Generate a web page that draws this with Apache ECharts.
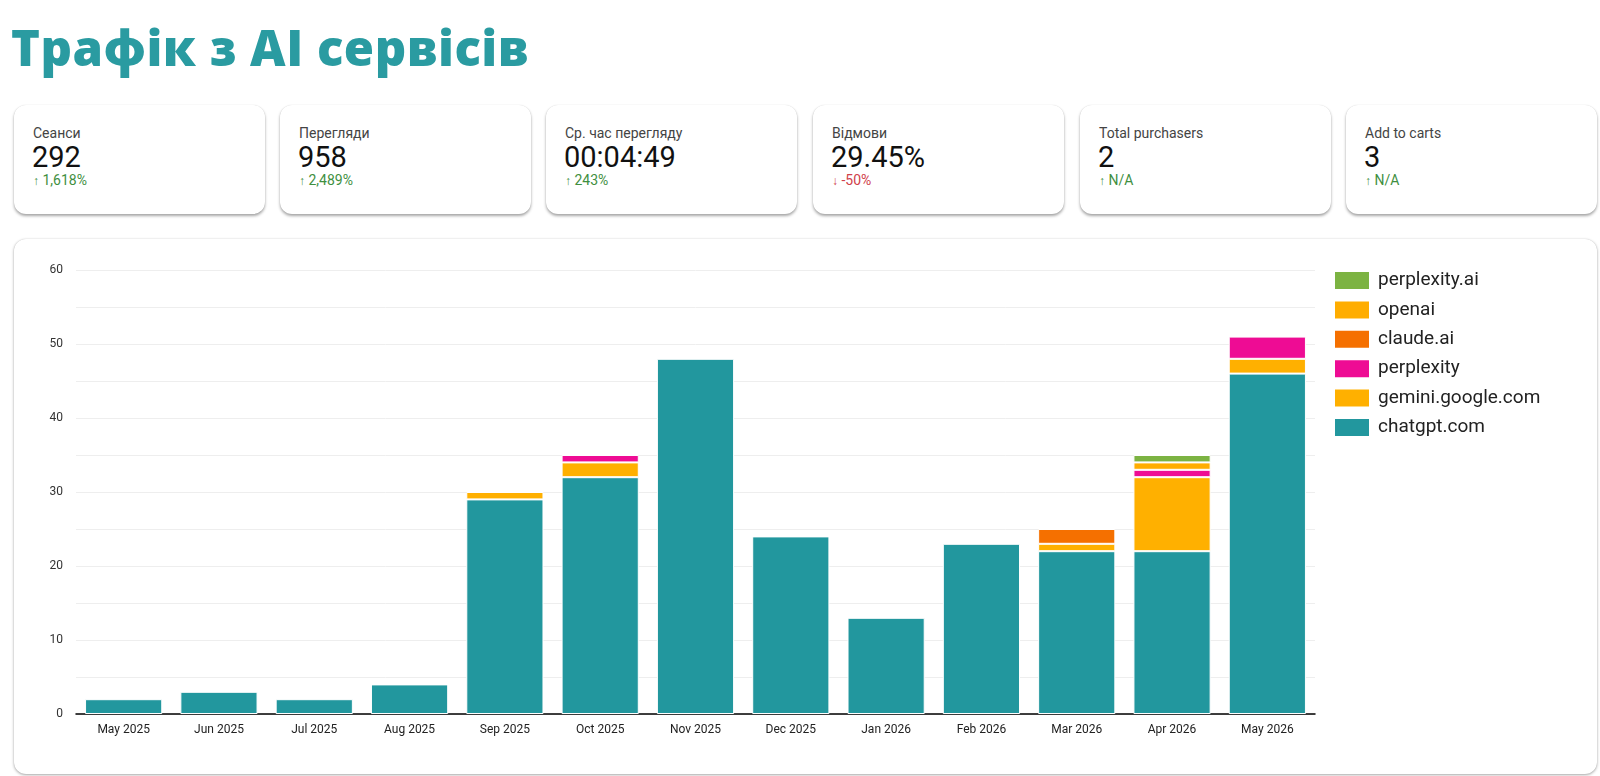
<!DOCTYPE html>
<html>
<head>
<meta charset="utf-8">
<script src="https://cdn.jsdelivr.net/npm/echarts@6/dist/echarts.min.js"></script>
<style>
  html, body { margin:0; padding:0; background:#fff; width:1600px; height:776px; overflow:hidden; font-family: Roboto, "Noto Sans", sans-serif; }
  #title { position:absolute; left:11px; top:14px; font-family:"Open Sans", Lato, sans-serif; font-weight:800; font-size:49px; color:#2a9ba1; letter-spacing:0.5px; white-space:nowrap; }
  .card { position:absolute; top:105px; width:251px; height:109px; background:#fff; border-radius:12px; box-shadow:0 2px 3px rgba(0,0,0,0.35), 0 0 1px rgba(0,0,0,0.15); box-sizing:border-box; }
  .lbl { position:absolute; left:19px; top:20px; font-size:14px; color:#444; }
  .val { position:absolute; left:18px; top:35px; font-size:29px; color:#111; }
  .dlt { position:absolute; left:19px; top:67px; font-size:14px; }
  .up { color:#3f8f3f; }
  .down { color:#d0404a; }
  #chartcard { position:absolute; left:14px; top:239px; width:1583px; height:535px; background:#fff; border-radius:12px; box-shadow:0 1px 3px rgba(0,0,0,0.35), 0 0 1px rgba(0,0,0,0.15); }
  #chart { position:absolute; left:0; top:0; width:1600px; height:776px; }
</style>
</head>
<body>
<div id="title">Трафік з AI сервісів</div>
<div id="cards"></div>
<div id="chartcard"></div>
<div id="chart"></div>
<script>
// KPI data
const kpiLabels = ["Сеанси", "Перегляди", "Ср. час перегляду", "Відмови", "Total purchasers", "Add to carts"];
const kpiValues = ["292", "958", "00:04:49", "29.45%", "2", "3"];
const kpiDeltas = ["1,618%", "2,489%", "243%", "-50%", "N/A", "N/A"];
const kpiDirs   = ["up", "up", "up", "down", "up", "up"];

// Chart data
const months = ["May 2025","Jun 2025","Jul 2025","Aug 2025","Sep 2025","Oct 2025","Nov 2025","Dec 2025","Jan 2026","Feb 2026","Mar 2026","Apr 2026","May 2026"];
const chatgpt      = [2, 3, 2, 4, 29, 32, 48, 24, 13, 23, 22, 22, 46];
const gemini       = [null, null, null, null, 1, 2, null, null, null, null, 1, 10, 2];
const perplexity   = [null, null, null, null, null, 1, null, null, null, null, null, 1, 3];
const claude       = [null, null, null, null, null, null, null, null, null, null, 2, null, null];
const openai       = [null, null, null, null, null, null, null, null, null, null, null, 1, null];
const perplexityAi = [null, null, null, null, null, null, null, null, null, null, null, 1, null];
const yTicks = [0, 10, 20, 30, 40, 50, 60];
const legendOrder = ["perplexity.ai", "openai", "claude.ai", "perplexity", "gemini.google.com", "chatgpt.com"];

// Build cards
const lefts = [14, 280, 546, 813, 1080, 1346];
const cardsEl = document.getElementById('cards');
kpiLabels.forEach((l, i) => {
  const c = document.createElement('div');
  c.className = 'card';
  c.style.left = lefts[i] + 'px';
  const arrow = kpiDirs[i] === 'up' ? '&#8593;' : '&#8595;';
  c.innerHTML = '<div class="lbl">' + l + '</div><div class="val">' + kpiValues[i] + '</div>' +
    '<div class="dlt ' + kpiDirs[i] + '"><span style="font-size:12px;font-weight:900">' + arrow + '</span> ' + kpiDeltas[i] + '</div>';
  cardsEl.appendChild(c);
});

const chart = echarts.init(document.getElementById('chart'), null, { renderer: 'canvas' });
const mk = (name, data, color) => ({
  name, type: 'bar', stack: 'total', data, barCategoryGap: '19%',
  itemStyle: { color, borderColor: '#fff', borderWidth: 1 },
  emphasis: { disabled: true }
});
chart.setOption({
  backgroundColor: 'transparent',
  animation: false,
  grid: { left: 76, right: 285, top: 270, bottom: 62, containLabel: false },
  legend: {
    data: legendOrder, orient: 'vertical', left: 1328, top: 265,
    itemWidth: 36, itemHeight: 19, itemGap: 8.4, icon: 'rect',
    textStyle: { fontSize: 19, color: '#222', fontFamily: 'Roboto', padding: [0, 0, 0, 3] },
    selectedMode: false
  },
  xAxis: {
    type: 'category', data: months,
    axisLine: { lineStyle: { color: '#000', width: 1.5 } },
    axisTick: { show: false },
    axisLabel: { fontSize: 12, color: '#222', fontFamily: 'Roboto', margin: 10 }
  },
  yAxis: {
    type: 'value', min: 0, max: 60, interval: 5,
    axisLine: { show: false }, axisTick: { show: false },
    splitLine: { lineStyle: { color: '#eeeeee', width: 1 } },
    axisLabel: {
      fontSize: 12, color: '#333', fontFamily: 'Roboto', margin: 13,
      formatter: v => (yTicks.indexOf(v) >= 0 ? String(v) : '')
    }
  },
  series: [
    mk('chatgpt.com', chatgpt, '#22979e'),
    mk('gemini.google.com', gemini, '#ffb000'),
    mk('perplexity', perplexity, '#ee0c94'),
    mk('claude.ai', claude, '#f57000'),
    mk('openai', openai, '#ffad00'),
    mk('perplexity.ai', perplexityAi, '#7cb342')
  ]
});
</script>
</body>
</html>
